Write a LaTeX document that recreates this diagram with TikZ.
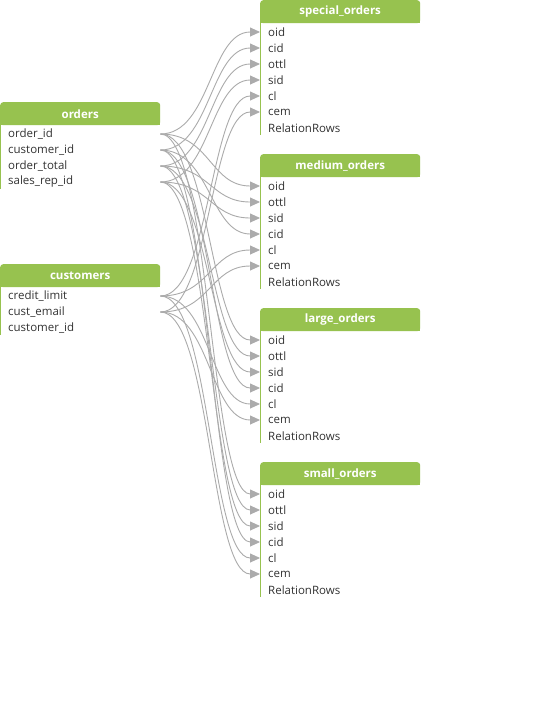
\documentclass[tikz,border=0pt]{standalone}
\usepackage{fontspec}
\setmainfont{Open Sans}
\usetikzlibrary{arrows.meta}
\definecolor{hdrgreen}{HTML}{97C24F}
\definecolor{linkgray}{HTML}{ABABAB}
\definecolor{txtgray}{HTML}{333333}
\tikzset{
  hdrbox/.style={fill=hdrgreen, rounded corners=3pt, minimum width=160pt, minimum height=23pt,
    anchor=north west, inner sep=0pt, text=white, font=\bfseries\fontsize{11.5}{13}\selectfont},
  rowbox/.style={anchor=west, minimum height=16pt, text width=144pt, inner xsep=8pt, inner ysep=0pt,
    align=left, text=txtgray, font=\fontsize{11.5}{13}\selectfont},
  tblborder/.style={draw=hdrgreen, line width=1.4pt},
  link/.style={draw=linkgray, line width=0.9pt, -{Triangle[length=10pt,width=9pt]}}
}
\newcommand\tblhead[4]{%
  \fill[hdrgreen] (#2,#3+12) rectangle (#2+160,#3+23);
  \node[hdrbox] (#1) at (#2,#3) {#4};}
\begin{document}
\begin{tikzpicture}[x=1pt,y=-1pt]
\useasboundingbox[fill=white] (0,0) rectangle (540,716);

% ---- orders
\draw[tblborder] (0.7,124) -- (0.7,189);
\tblhead{orders}{0}{102}{orders}
\node[rowbox] (o1) at (0,134) {order\_id};
\node[rowbox] (o2) at (0,150) {customer\_id};
\node[rowbox] (o3) at (0,166) {order\_total};
\node[rowbox] (o4) at (0,182) {sales\_rep\_id};

% ---- customers
\draw[tblborder] (0.7,286) -- (0.7,335);
\tblhead{customers}{0}{264}{customers}
\node[rowbox] (c1) at (0,296) {credit\_limit};
\node[rowbox] (c2) at (0,312) {cust\_email};
\node[rowbox] (c3) at (0,328) {customer\_id};

% ---- special_orders
\draw[tblborder] (260.7,22) -- (260.7,135);
\tblhead{special}{260}{0}{special\_orders}
\node[rowbox] (sp-oid) at (260,32) {oid};
\node[rowbox] (sp-cid) at (260,48) {cid};
\node[rowbox] (sp-ottl) at (260,64) {ottl};
\node[rowbox] (sp-sid) at (260,80) {sid};
\node[rowbox] (sp-cl) at (260,96) {cl};
\node[rowbox] (sp-cem) at (260,112) {cem};
\node[rowbox] (sp-rr) at (260,128) {RelationRows};

% ---- medium_orders
\draw[tblborder] (260.7,176) -- (260.7,289);
\tblhead{medium}{260}{154}{medium\_orders}
\node[rowbox] (md-oid) at (260,186) {oid};
\node[rowbox] (md-ottl) at (260,202) {ottl};
\node[rowbox] (md-sid) at (260,218) {sid};
\node[rowbox] (md-cid) at (260,234) {cid};
\node[rowbox] (md-cl) at (260,250) {cl};
\node[rowbox] (md-cem) at (260,266) {cem};
\node[rowbox] (md-rr) at (260,282) {RelationRows};

% ---- large_orders
\draw[tblborder] (260.7,330) -- (260.7,443);
\tblhead{large}{260}{308}{large\_orders}
\node[rowbox] (lg-oid) at (260,340) {oid};
\node[rowbox] (lg-ottl) at (260,356) {ottl};
\node[rowbox] (lg-sid) at (260,372) {sid};
\node[rowbox] (lg-cid) at (260,388) {cid};
\node[rowbox] (lg-cl) at (260,404) {cl};
\node[rowbox] (lg-cem) at (260,420) {cem};
\node[rowbox] (lg-rr) at (260,436) {RelationRows};

% ---- small_orders
\draw[tblborder] (260.7,484) -- (260.7,597);
\tblhead{small}{260}{462}{small\_orders}
\node[rowbox] (sm-oid) at (260,494) {oid};
\node[rowbox] (sm-ottl) at (260,510) {ottl};
\node[rowbox] (sm-sid) at (260,526) {sid};
\node[rowbox] (sm-cid) at (260,542) {cid};
\node[rowbox] (sm-cl) at (260,558) {cl};
\node[rowbox] (sm-cem) at (260,574) {cem};
\node[rowbox] (sm-rr) at (260,590) {RelationRows};

% ---- links
\foreach \t in {sp,md,lg,sm}{
  \draw[link] (o1.east) .. controls +(50,0) and +(-50,0) .. (\t-oid.west);
  \draw[link] (o2.east) .. controls +(50,0) and +(-50,0) .. (\t-cid.west);
  \draw[link] (o3.east) .. controls +(50,0) and +(-50,0) .. (\t-ottl.west);
  \draw[link] (o4.east) .. controls +(50,0) and +(-50,0) .. (\t-sid.west);
  \draw[link] (c1.east) .. controls +(50,0) and +(-50,0) .. (\t-cl.west);
  \draw[link] (c2.east) .. controls +(50,0) and +(-50,0) .. (\t-cem.west);
}
\end{tikzpicture}
\end{document}
